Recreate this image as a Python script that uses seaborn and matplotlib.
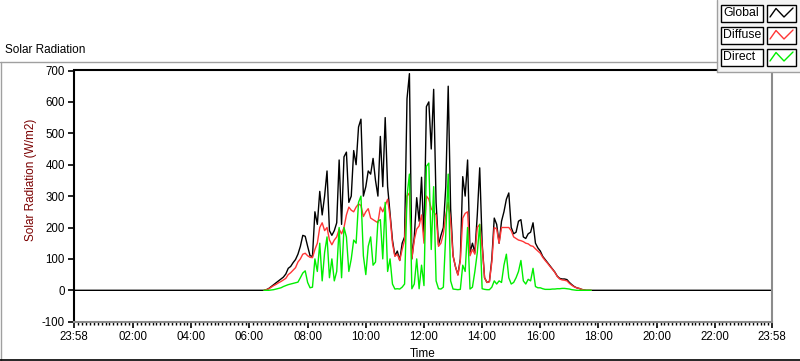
import numpy as np
import pandas as pd
import matplotlib
matplotlib.use("Agg")
import matplotlib.pyplot as plt
import matplotlib.dates as mdates
from matplotlib.lines import Line2D
from matplotlib.patches import Rectangle
import seaborn as sns

# samples every 5 minutes, 06:30 .. 17:45 (W/m2)
day_start = "2014-06-01 06:30"
step = "5min"

global_wm2 = [
    0, 2, 6, 12, 18, 24, 30, 36, 42, 52, 70, 76,
    88, 98, 115, 140, 175, 172, 140, 110, 108, 250, 210, 315,
    240, 300, 380, 190, 175, 190, 215, 415, 210, 425, 440, 280,
    300, 445, 400, 520, 545, 300, 330, 380, 370, 420, 350, 300,
    490, 330, 550, 330, 245, 160, 110, 125, 95, 150, 170, 610,
    690, 100, 170, 295, 220, 360, 160, 585, 600, 450, 640, 280,
    145, 175, 200, 330, 650, 260, 110, 75, 50, 100, 362, 300,
    415, 120, 150, 120, 240, 390, 150, 40, 25, 28, 100, 230,
    210, 150, 220, 250, 290, 310, 200, 180, 185, 220, 225, 170,
    165, 180, 185, 215, 150, 135, 125, 108, 98, 88, 78, 68,
    58, 45, 38, 36, 36, 34, 25, 18, 12, 8, 6, 3,
    1, 0, 0, 0,
]
diffuse_wm2 = [
    0, 2, 5, 10, 15, 19, 24, 28, 33, 38, 50, 56,
    64, 72, 90, 100, 115, 118, 110, 105, 104, 130, 150, 200,
    215, 190, 200, 160, 145, 160, 170, 195, 180, 200, 240, 265,
    255, 250, 265, 275, 270, 235, 250, 260, 230, 225, 220, 215,
    265, 250, 270, 290, 235, 150, 108, 115, 95, 130, 160, 300,
    310, 100, 160, 195, 205, 240, 150, 300, 290, 260, 250, 240,
    140, 150, 180, 240, 280, 220, 110, 75, 48, 95, 230, 245,
    250, 110, 130, 115, 200, 210, 140, 40, 25, 27, 90, 200,
    195, 150, 200, 200, 200, 200, 190, 170, 165, 160, 158, 155,
    150, 148, 142, 140, 132, 125, 118, 105, 95, 86, 76, 67,
    57, 44, 36, 33, 32, 30, 22, 16, 11, 8, 6, 3,
    1, 0, 0, 0,
]
direct_wm2 = [
    0, 0, 0, 1, 2, 4, 6, 8, 12, 15, 18, 20,
    22, 24, 26, 40, 55, 62, 25, 8, 10, 100, 60, 150,
    30, 120, 170, 40, 100, 30, 60, 200, 40, 200, 170, 60,
    100, 160, 150, 280, 300, 110, 50, 140, 170, 80, 90, 220,
    225, 100, 280, 60, 100, 20, 4, 5, 4, 10, 20, 300,
    370, 5, 20, 100, 5, 80, 15, 395, 405, 130, 330, 30,
    5, 4, 10, 180, 370, 30, 4, 3, 2, 3, 80, 60,
    200, 4, 10, 60, 120, 210, 5, 3, 2, 2, 10, 30,
    20, 30, 25, 80, 115, 40, 20, 25, 40, 60, 95, 30,
    20, 35, 30, 70, 12, 8, 8, 5, 3, 3, 3, 4,
    4, 5, 5, 6, 6, 5, 4, 2, 1, 0, 0, 0,
    0, 0, 0, 0,
]

# global sensor sits at 0 during the night
night_times = ["2014-05-31 23:58", "2014-06-01 06:25",
               "2014-06-01 17:50", "2014-06-01 23:58"]
night_global = [0, 0, 0, 0]

series_names = ["Global", "Diffuse", "Direct"]
colors = {"Global": "black", "Diffuse": "#ff3636", "Direct": "#00ee00"}

day_times = pd.date_range(day_start, periods=len(global_wm2), freq=step)
df = pd.concat([
    pd.DataFrame({"time": pd.to_datetime(night_times), "value": night_global, "series": "Global"}),
    pd.DataFrame({"time": day_times, "value": global_wm2, "series": "Global"}),
    pd.DataFrame({"time": day_times, "value": diffuse_wm2, "series": "Diffuse"}),
    pd.DataFrame({"time": day_times, "value": direct_wm2, "series": "Direct"}),
], ignore_index=True)

sns.set_style("white")
plt.rcParams["font.family"] = ["Liberation Sans", "DejaVu Sans"]
plt.rcParams["axes.unicode_minus"] = False

W, H = 800, 361
fig = plt.figure(figsize=(W / 100, H / 100), dpi=100)


def fx(px):
    return px / W


def fy(py):
    return 1 - py / H


def hline(y, x0, x1, color, lw=1.0):
    fig.add_artist(Line2D([fx(x0), fx(x1)], [fy(y), fy(y)], transform=fig.transFigure,
                          color=color, lw=lw))


def vline(x, y0, y1, color, lw=1.0):
    fig.add_artist(Line2D([fx(x), fx(x)], [fy(y0), fy(y1)], transform=fig.transFigure,
                          color=color, lw=lw))


ax = fig.add_axes([fx(74), fy(321.7), fx(772) - fx(74), (321.7 - 70.5) / H])
sns.lineplot(data=df, x="time", y="value", hue="series", hue_order=series_names,
             palette=colors, estimator=None, linewidth=1.0, legend=False, ax=ax)

t0 = pd.Timestamp("2014-05-31 23:58")
t1 = pd.Timestamp("2014-06-01 23:58")
ax.set_xlim(t0, t1)
ax.set_ylim(-100, 700)
ax.set_yticks(range(-100, 701, 100))

majors = [t0] + [pd.Timestamp(f"2014-06-01 {h:02d}:00") for h in range(2, 23, 2)] + [t1]
major_num = mdates.date2num(majors)
minor_num = np.concatenate([np.linspace(a, b, 16)[1:-1] for a, b in zip(major_num[:-1], major_num[1:])])
ax.xaxis.set_major_locator(matplotlib.ticker.FixedLocator(major_num))
ax.xaxis.set_minor_locator(matplotlib.ticker.FixedLocator(minor_num))
ax.xaxis.set_major_formatter(mdates.DateFormatter("%H:%M"))

ax.tick_params(axis="both", which="major", direction="out", labelsize=8.3, color="black",
               labelcolor="black", length=4.5, width=1.2, pad=2, left=True, bottom=True)
ax.tick_params(axis="x", which="minor", direction="out", length=2.2, width=1, color="black",
               bottom=True)
ax.set_xlabel("")
ax.set_ylabel("")

for side in ["left", "top"]:
    ax.spines[side].set_color("black")
    ax.spines[side].set_linewidth(1.5)
for side in ["right", "bottom"]:
    ax.spines[side].set_color("#8c8c8c")
    ax.spines[side].set_linewidth(1.5)
    ax.spines[side].set_visible(True)

fig.text(fx(423), fy(354), "Time", ha="center", va="center", fontsize=8.5, color="black")
fig.text(fx(31), fy(180), "Solar Radiation (W/m2)", rotation=90, ha="center", va="center",
         fontsize=8.5, color="#7a0000")
fig.text(fx(5), fy(50), "Solar Radiation", ha="left", va="center", fontsize=8.5, color="black")

# panel frame
hline(62, 0, 717, "#a0a0a0")
vline(0.5, 62, 360, "#a0a0a0")
hline(359.5, 0, 800, "black", 1.2)

# legend panel
fig.add_artist(Rectangle((fx(717), fy(72)), fx(800) - fx(717), 72 / H, transform=fig.transFigure,
                         facecolor="#f4f4f4", edgecolor="none"))
vline(717, 0, 72, "#a0a0a0")
hline(72, 717, 800, "#a0a0a0")
for i, name in enumerate(series_names):
    top = 5 + 22 * i
    fig.add_artist(Rectangle((fx(721), fy(top + 17)), fx(763) - fx(721), 17 / H,
                             transform=fig.transFigure, facecolor="white", edgecolor="black", lw=1))
    fig.add_artist(Rectangle((fx(767), fy(top + 17)), fx(796) - fx(767), 17 / H,
                             transform=fig.transFigure, facecolor="white", edgecolor="black", lw=1))
    fig.text(fx(723.5), fy(top + 8.5), name, ha="left", va="center", fontsize=8.8, color="black")
    zx = [770, 776, 784, 793]
    zy = [top + 12, top + 3.5, top + 12, top + 3]
    fig.add_artist(Line2D([fx(v) for v in zx], [fy(v) for v in zy], transform=fig.transFigure,
                          color=colors[name], lw=1))

fig.savefig("out.png", dpi=100)
